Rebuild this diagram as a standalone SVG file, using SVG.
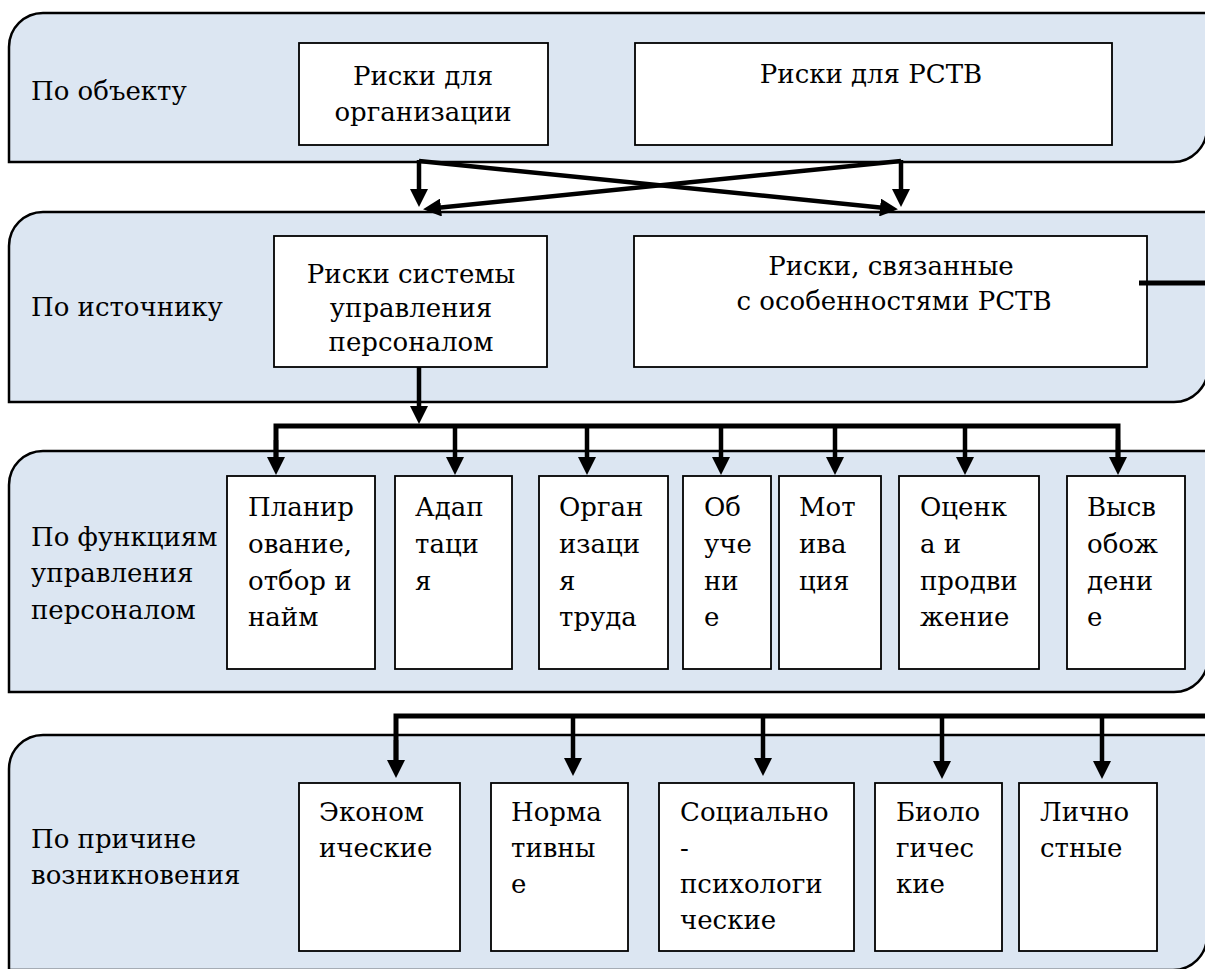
<svg xmlns="http://www.w3.org/2000/svg" width="1205" height="969" viewBox="0 0 1205 969">
<defs>
<style>
text{font-family:"DejaVu Serif",serif;font-size:26px;fill:#000}
.band{fill:#dce6f2;stroke:#000;stroke-width:2.5}
.box{fill:#fff;stroke:#000;stroke-width:1.8}
.c{text-anchor:middle}
.ln{fill:none;stroke:#000;stroke-width:4.5;stroke-linejoin:miter}
.bus{fill:none;stroke:#000;stroke-width:5}
</style>
<marker id="ah" viewBox="0 0 18 18" refX="5" refY="9" markerWidth="18" markerHeight="18" markerUnits="userSpaceOnUse" orient="auto">
<path d="M0,0 L18,9 L0,18 Z" fill="#000"/>
</marker>
</defs>

<g id="band-object">
<path class="band" d="M9,47 A34,34 0 0 1 43,13 H1207 V128 A34,34 0 0 1 1173,162 H9 Z"/>
<text x="31" y="100">По объекту</text>
</g>
<g id="band-source">
<path class="band" d="M9,246 A34,34 0 0 1 43,212 H1208 V368 A34,34 0 0 1 1174,402 H9 Z"/>
<text x="31" y="316">По источнику</text>
</g>
<g id="band-functions">
<path class="band" d="M9,485 A34,34 0 0 1 43,451 H1208 V658 A34,34 0 0 1 1174,692 H9 Z"/>
<text x="31" y="546">По функциям</text>
<text x="31" y="582">управления</text>
<text x="31" y="619">персоналом</text>
</g>
<g id="band-cause">
<path class="band" d="M9,769 A34,34 0 0 1 43,735 H1207 V936 A34,34 0 0 1 1173,970 H9 Z"/>
<text x="31" y="848">По причине</text>
<text x="31" y="884">возникновения</text>
</g>

<g id="node-org">
<rect class="box" x="299" y="43" width="249" height="102"/>
<text class="c" x="423" y="85">Риски для</text>
<text class="c" x="423" y="121">организации</text>
</g>
<g id="node-rstv">
<rect class="box" x="635" y="43" width="477" height="102"/>
<text class="c" x="871" y="83">Риски для РСТВ</text>
</g>
<g id="node-hrm">
<rect class="box" x="274" y="236" width="273" height="131"/>
<text class="c" x="411" y="283">Риски системы</text>
<text class="c" x="411" y="317">управления</text>
<text class="c" x="411" y="351">персоналом</text>
</g>
<g id="node-rstv-features">
<rect class="box" x="634" y="236" width="513" height="131"/>
<text class="c" x="891" y="275">Риски, связанные</text>
<text class="c" x="894" y="310">с особенностями РСТВ</text>
</g>

<g id="node-f1">
<rect class="box" x="227" y="476" width="148" height="193"/>
<text x="248" y="516">Планир</text><text x="248" y="553">ование,</text><text x="248" y="590">отбор и</text><text x="248" y="626">найм</text>
</g>
<g id="node-f2">
<rect class="box" x="395" y="476" width="117" height="193"/>
<text x="415" y="516">Адап</text><text x="415" y="553">таци</text><text x="415" y="590">я</text>
</g>
<g id="node-f3">
<rect class="box" x="539" y="476" width="129" height="193"/>
<text x="559" y="516">Орган</text><text x="559" y="553">изаци</text><text x="559" y="590">я</text><text x="559" y="626">труда</text>
</g>
<g id="node-f4">
<rect class="box" x="683" y="476" width="88" height="193"/>
<text x="704" y="516">Об</text><text x="704" y="553">уче</text><text x="704" y="590">ни</text><text x="704" y="626">е</text>
</g>
<g id="node-f5">
<rect class="box" x="779" y="476" width="102" height="193"/>
<text x="799" y="516">Мот</text><text x="799" y="553">ива</text><text x="799" y="590">ция</text>
</g>
<g id="node-f6">
<rect class="box" x="899" y="476" width="140" height="193"/>
<text x="920" y="516">Оценк</text><text x="920" y="553">а и</text><text x="920" y="590">продви</text><text x="920" y="626">жение</text>
</g>
<g id="node-f7">
<rect class="box" x="1067" y="476" width="118" height="193"/>
<text x="1087" y="516">Высв</text><text x="1087" y="553">обож</text><text x="1087" y="590">дени</text><text x="1087" y="626">е</text>
</g>

<g id="node-c1">
<rect class="box" x="299" y="783" width="161" height="168"/>
<text x="319" y="821">Эконом</text><text x="319" y="857">ические</text>
</g>
<g id="node-c2">
<rect class="box" x="491" y="783" width="137" height="168"/>
<text x="511" y="821">Норма</text><text x="511" y="857">тивны</text><text x="511" y="893">е</text>
</g>
<g id="node-c3">
<rect class="box" x="659" y="783" width="195" height="168"/>
<text x="680" y="821">Социально</text><text x="680" y="857">-</text><text x="680" y="893">психологи</text><text x="680" y="929">ческие</text>
</g>
<g id="node-c4">
<rect class="box" x="875" y="783" width="127" height="168"/>
<text x="896" y="821">Биоло</text><text x="896" y="857">гичес</text><text x="896" y="893">кие</text>
</g>
<g id="node-c5">
<rect class="box" x="1019" y="783" width="138" height="168"/>
<text x="1040" y="821">Лично</text><text x="1040" y="857">стные</text>
</g>

<g id="connectors">
<line class="ln" x1="419" y1="160" x2="419" y2="194" marker-end="url(#ah)"/>
<line class="ln" x1="901" y1="160" x2="901" y2="194" marker-end="url(#ah)"/>
<line class="ln" x1="419" y1="161" x2="885" y2="208" stroke-width="4" marker-end="url(#ah)"/>
<line class="ln" x1="901" y1="161" x2="436" y2="208" stroke-width="4" marker-end="url(#ah)"/>
<line class="bus" x1="1139" y1="283" x2="1205" y2="283"/>
<line class="ln" x1="419" y1="367" x2="419" y2="411" marker-end="url(#ah)"/>
<path class="bus" d="M276,462 V426 H1118 V462"/>
<line class="ln" x1="276" y1="440" x2="276" y2="462" marker-end="url(#ah)"/>
<line class="ln" x1="455" y1="426" x2="455" y2="462" marker-end="url(#ah)"/>
<line class="ln" x1="587" y1="426" x2="587" y2="462" marker-end="url(#ah)"/>
<line class="ln" x1="721" y1="426" x2="721" y2="462" marker-end="url(#ah)"/>
<line class="ln" x1="835" y1="426" x2="835" y2="462" marker-end="url(#ah)"/>
<line class="ln" x1="965" y1="426" x2="965" y2="462" marker-end="url(#ah)"/>
<line class="ln" x1="1118" y1="440" x2="1118" y2="462" marker-end="url(#ah)"/>
<path class="bus" d="M396,760 V716 H1205"/>
<line class="ln" x1="396" y1="740" x2="396" y2="765" marker-end="url(#ah)"/>
<line class="ln" x1="573" y1="716" x2="573" y2="763" marker-end="url(#ah)"/>
<line class="ln" x1="763" y1="716" x2="763" y2="763" marker-end="url(#ah)"/>
<line class="ln" x1="942" y1="716" x2="942" y2="766" marker-end="url(#ah)"/>
<line class="ln" x1="1102" y1="716" x2="1102" y2="766" marker-end="url(#ah)"/>
</g>
</svg>
